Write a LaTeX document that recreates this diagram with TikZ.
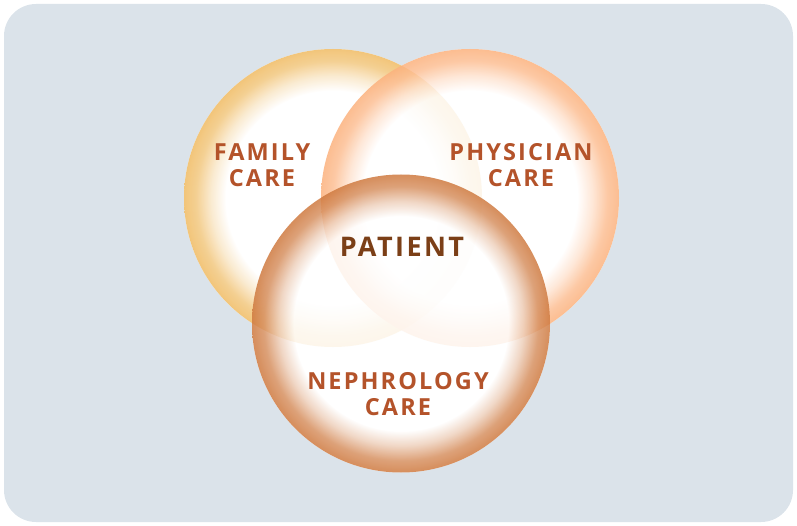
\documentclass[tikz,border=0pt]{standalone}
\usepackage{fontspec}
\newfontfamily\lblfont[LetterSpace=9]{Open Sans}
\definecolor{panelbg}{HTML}{DBE3EA}
\definecolor{famcol}{HTML}{F0BC64}
\definecolor{phycol}{HTML}{FCB27E}
\definecolor{nepcol}{HTML}{CF7A40}
\definecolor{labelcol}{HTML}{B4532A}
\definecolor{patientcol}{HTML}{7B3F17}
% radial fades: white core, coloured rim (25bp = circle radius)
\pgfdeclareradialshading{famshade}{\pgfpointorigin}{color(0bp)=(white); color(18bp)=(white); color(20.5bp)=(famcol!35!white); color(23bp)=(famcol!82!white); color(25bp)=(famcol); color(50bp)=(famcol)}
\pgfdeclareradialshading{physhade}{\pgfpointorigin}{color(0bp)=(white); color(18bp)=(white); color(20.5bp)=(phycol!35!white); color(23bp)=(phycol!82!white); color(25bp)=(phycol); color(50bp)=(phycol)}
\pgfdeclareradialshading{nepshade}{\pgfpointorigin}{color(0bp)=(white); color(18bp)=(white); color(20.5bp)=(nepcol!35!white); color(23bp)=(nepcol!82!white); color(25bp)=(nepcol); color(50bp)=(nepcol)}
\begin{document}
\begin{tikzpicture}[x=1pt,y=-1pt,
  ring/.style={circle,minimum size=298pt,inner sep=0pt,fill opacity=0.85},
  caption/.style={font=\lblfont\bfseries\fontsize{23.5}{26.5}\selectfont,text=labelcol,align=center,inner sep=0pt},
  centre/.style={font=\lblfont\bfseries\fontsize{27}{30}\selectfont,text=patientcol,inner sep=0pt}]
\useasboundingbox (0,0) rectangle (797,526);
\fill[panelbg,rounded corners=32pt] (4,4) rectangle (793,522);
% opaque white base under the three rings
\foreach \p in {(333,198),(470,198),(401,323.5)}
  \fill[white] \p circle (149);
\node[ring,shading=famshade] (family) at (333,198) {};
\node[ring,shading=physhade] (physician) at (470,198) {};
\node[ring,shading=nepshade] (nephrology) at (401,323.5) {};
\node[caption] (familylbl) at (262,165) {FAMILY\\CARE};
\node[caption] (physicianlbl) at (521,165) {PHYSICIAN\\CARE};
\node[caption] (nephrologylbl) at (398,394) {NEPHROLOGY\\CARE};
\node[centre] (patient) at (402,247) {PATIENT};
\end{tikzpicture}
\end{document}
